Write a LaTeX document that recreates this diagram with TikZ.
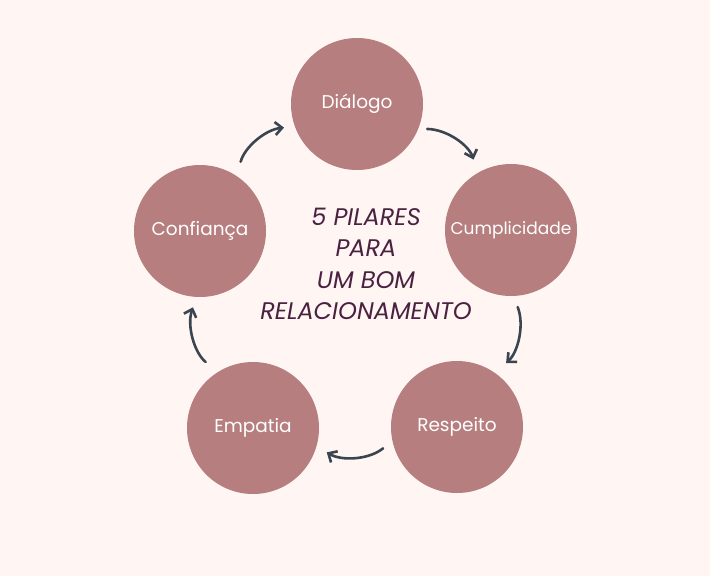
\documentclass[tikz,border=0pt]{standalone}
\usepackage{fontspec}
\setmainfont{Poppins}
\usetikzlibrary{arrows.meta}
\definecolor{bg}{HTML}{FFF6F3}
\definecolor{pillar}{HTML}{B67E7E}
\definecolor{arrowc}{HTML}{3B4550}
\definecolor{titlec}{HTML}{4A2140}
\tikzset{
  pillar/.style={circle, fill=pillar, minimum size=132pt, inner sep=0pt, outer sep=0pt,
    text=white, font=\fontsize{18.5}{20}\selectfont},
  cyc/.style={draw=arrowc, line width=2.6pt, line cap=round,
    -{Straight Barb[length=7pt,width=13pt,line width=2.6pt]}, bend left=35},
  titletext/.style={text=titlec, align=center, font=\fontsize{24}{31.5}\selectfont\itshape}
}
\begin{document}
\begin{tikzpicture}[x=1pt,y=-1pt]
\fill[bg] (0,0) rectangle (710,576);
\useasboundingbox (0,0) rectangle (710,576);
\node[pillar] (dia) at (357,104) {Diálogo};
\node[pillar] (cum) at (511,230) {\fontsize{17}{18}\selectfont Cumplicidade};
\node[pillar] (res) at (457,427) {Respeito};
\node[pillar] (emp) at (253,428) {Empatia};
\node[pillar] (con) at (200,231) {Confiança};
\node[titletext] (title) at (366,264) {5 PILARES\\PARA\\UM BOM\\RELACIONAMENTO};
\draw[cyc, shorten <=15pt, shorten >=11pt] (con.56) to (dia.200);
\draw[cyc, shorten <=9pt, shorten >=14pt] (dia.-22) to (cum.120);
\draw[cyc, shorten <=12pt, shorten >=15pt] (cum.-88) to (res.55);
\draw[cyc, shorten <=12pt, shorten >=12pt] (res.192) to (emp.-16);
\draw[cyc, shorten <=16pt, shorten >=11pt] (emp.122) to (con.-93);
\end{tikzpicture}
\end{document}
